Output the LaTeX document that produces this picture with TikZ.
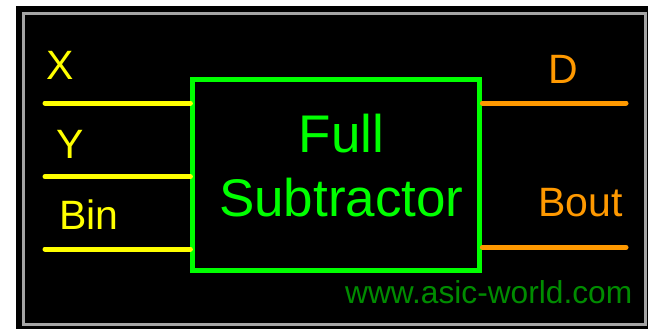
\documentclass[tikz,border=0pt]{standalone}
\usepackage{fontspec}
\setmainfont{Liberation Sans}
\usepackage{xcolor}
\usetikzlibrary{positioning}

\definecolor{sigyellow}{RGB}{255,255,0}
\definecolor{sigorange}{RGB}{255,153,0}
\definecolor{boxgreen}{RGB}{0,255,0}
\definecolor{webgreen}{RGB}{0,140,0}
\definecolor{framegrey}{RGB}{165,165,165}

\tikzset{
  inwire/.style={draw=sigyellow,line width=5pt,line cap=round},
  outwire/.style={draw=sigorange,line width=5pt,line cap=round},
  inlabel/.style={text=sigyellow,anchor=base west,inner sep=0pt,font=\fontsize{41}{41}\selectfont},
  outlabel/.style={text=sigorange,anchor=base west,inner sep=0pt,font=\fontsize{41}{41}\selectfont},
  blockbox/.style={draw=boxgreen,line width=5pt,minimum width=287pt,minimum height=191pt,inner sep=0pt}
}

\begin{document}
\begin{tikzpicture}[x=1pt,y=-1pt]
  % page and frame
  \useasboundingbox (0,0) rectangle (648,329);
  \fill[white] (0,0) rectangle (648,329);
  \fill[black] (16,6) rectangle (648,329);
  \draw[framegrey,line width=3pt] (23.5,13.5) rectangle (645,324.5);
  % the block
  \node[blockbox] (fs) at (336.4,174.7) {};
  \node[text=boxgreen,align=center,inner sep=0pt,
        font=\fontsize{53}{64}\selectfont] (fstext) at (fs.center) [xshift=5pt,yshift=9pt] {Full\\Subtractor};
  % inputs
  \coordinate (inx) at (45,103);
  \coordinate (iny) at (45,176.7);
  \coordinate (inbin) at (45,249);
  \draw[inwire] (inx) -- (fs.west |- inx);
  \draw[inwire] (iny) -- (fs.west |- iny);
  \draw[inwire] (inbin) -- (fs.west |- inbin);
  \node[inlabel] (lx) at (46,79) {X};
  \node[inlabel] (ly) at (56,158) {Y};
  \node[inlabel] (lbin) at (59,229.3) {Bin};
  % outputs
  \coordinate (outd) at (626,103);
  \coordinate (outbout) at (626,247.3);
  \draw[outwire] (fs.east |- outd) -- (outd);
  \draw[outwire] (fs.east |- outbout) -- (outbout);
  \node[outlabel] (ld) at (548,84) {D};
  \node[outlabel] (lbout) at (538,216) {Bout};
  % credit
  \node[text=webgreen,anchor=base west,inner sep=0pt,
        font=\fontsize{31.7}{31.7}\selectfont] (credit) at (345,303) {www.asic-world.com};
\end{tikzpicture}
\end{document}
